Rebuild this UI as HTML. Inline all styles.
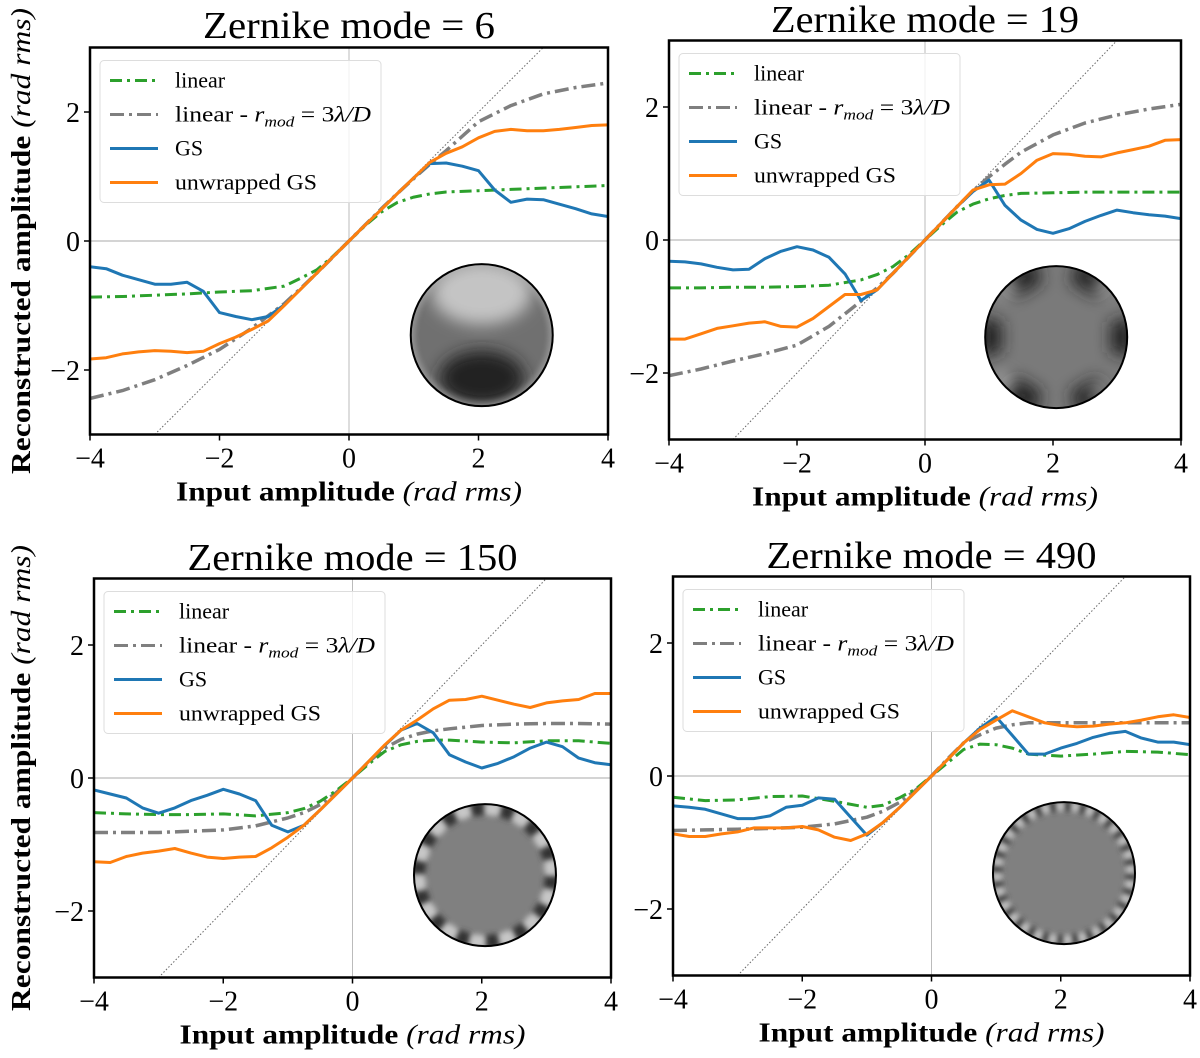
<!DOCTYPE html>
<html><head><meta charset="utf-8"><style>
html,body{margin:0;padding:0;background:#fff;}
svg{display:block;font-family:"Liberation Serif",serif;}
</style></head><body>
<svg id="fig" width="1200" height="1058" viewBox="0 0 1200 1058" xmlns="http://www.w3.org/2000/svg">
<defs>
<filter id="blur3" x="-20%" y="-20%" width="140%" height="140%"><feGaussianBlur stdDeviation="3"/></filter>
<filter id="blur6" x="-20%" y="-20%" width="140%" height="140%"><feGaussianBlur stdDeviation="8"/></filter>
</defs>
</svg>
<script>
// shared x grid
const xs = [-4,-3.75,-3.5,-3.25,-3,-2.75,-2.5,-2.25,-2,-1.75,-1.5,-1.25,-1,-0.75,-0.5,-0.25,0,0.25,0.5,0.75,1,1.25,1.5,1.75,2,2.25,2.5,2.75,3,3.25,3.5,3.75,4];
const xsLin = [-4,-3.5,-3,-2.5,-2,-1.5,-1,-0.75,-0.5,-0.25,0,0.25,0.5,0.75,1,1.25,1.5,2,2.5,3,3.5,4];
const modes = [6,19,150,490];
const xTicks = [-4,-2,0,2,4];
const yTicks = [-2,0,2];
const xTickLabels = ["\u22124","\u22122","0","2","4"];
const yTickLabels = ["\u22122","0","2"];

// mode 6
const gs6 = [-0.40,-0.43,-0.53,-0.60,-0.67,-0.67,-0.64,-0.78,-1.11,-1.17,-1.22,-1.17,-0.99,-0.75,-0.50,-0.25,0,0.25,0.49,0.74,0.98,1.20,1.21,1.16,1.09,0.79,0.60,0.65,0.64,0.57,0.50,0.42,0.38];
const ugs6 = [-1.83,-1.81,-1.75,-1.72,-1.70,-1.71,-1.73,-1.71,-1.59,-1.49,-1.37,-1.24,-1.00,-0.75,-0.50,-0.25,0,0.25,0.49,0.74,0.98,1.22,1.36,1.46,1.60,1.70,1.73,1.71,1.71,1.73,1.76,1.79,1.80];
const lin6 = [-0.87,-0.86,-0.84,-0.82,-0.79,-0.77,-0.70,-0.58,-0.45,-0.24,0,0.24,0.45,0.60,0.68,0.73,0.76,0.78,0.80,0.82,0.84,0.86];
const linr6 = [-2.44,-2.32,-2.15,-1.93,-1.68,-1.35,-0.97,-0.74,-0.50,-0.25,0,0.25,0.50,0.74,0.97,1.19,1.40,1.85,2.10,2.28,2.38,2.45];
// mode 19
const gs19 = [-0.32,-0.33,-0.36,-0.41,-0.45,-0.44,-0.28,-0.17,-0.10,-0.15,-0.26,-0.51,-0.91,-0.75,-0.50,-0.25,0,0.25,0.50,0.73,0.90,0.52,0.30,0.16,0.10,0.17,0.28,0.37,0.45,0.41,0.38,0.36,0.32];
const ugs19 = [-1.49,-1.49,-1.41,-1.33,-1.29,-1.25,-1.23,-1.30,-1.31,-1.18,-1.00,-0.82,-0.82,-0.75,-0.50,-0.25,0,0.25,0.50,0.75,0.83,0.84,1.00,1.20,1.30,1.29,1.26,1.25,1.31,1.36,1.41,1.50,1.51];
const lin19 = [-0.72,-0.72,-0.71,-0.71,-0.70,-0.68,-0.60,-0.52,-0.40,-0.22,0,0.22,0.42,0.54,0.62,0.67,0.70,0.71,0.72,0.72,0.72,0.72];
const linr19 = [-2.04,-1.94,-1.82,-1.71,-1.58,-1.30,-0.92,-0.72,-0.50,-0.25,0,0.25,0.50,0.74,0.95,1.14,1.32,1.58,1.76,1.88,1.97,2.04];
// mode 150
const gs150 = [-0.18,-0.24,-0.30,-0.45,-0.53,-0.45,-0.34,-0.26,-0.17,-0.24,-0.34,-0.71,-0.81,-0.71,-0.48,-0.24,0,0.25,0.49,0.72,0.82,0.68,0.35,0.24,0.15,0.22,0.32,0.45,0.54,0.47,0.30,0.23,0.20];
const ugs150 = [-1.26,-1.27,-1.18,-1.13,-1.10,-1.06,-1.13,-1.19,-1.21,-1.19,-1.18,-1.05,-0.89,-0.71,-0.48,-0.24,0,0.25,0.50,0.72,0.87,1.04,1.17,1.18,1.23,1.17,1.11,1.06,1.13,1.16,1.18,1.27,1.27];
const lin150 = [-0.52,-0.54,-0.55,-0.55,-0.54,-0.57,-0.52,-0.46,-0.35,-0.19,0,0.21,0.40,0.50,0.55,0.57,0.57,0.54,0.53,0.56,0.56,0.52];
const linr150 = [-0.82,-0.82,-0.82,-0.80,-0.78,-0.72,-0.60,-0.52,-0.40,-0.22,0,0.24,0.45,0.58,0.66,0.71,0.74,0.79,0.81,0.82,0.82,0.81];
// mode 490
const gs490 = [-0.45,-0.47,-0.50,-0.57,-0.64,-0.64,-0.60,-0.47,-0.44,-0.33,-0.35,-0.62,-0.89,-0.70,-0.48,-0.24,0,0.25,0.50,0.72,0.89,0.61,0.33,0.33,0.42,0.49,0.58,0.64,0.67,0.57,0.51,0.51,0.47];
const ugs490 = [-0.87,-0.91,-0.91,-0.87,-0.84,-0.78,-0.78,-0.78,-0.76,-0.81,-0.92,-0.97,-0.87,-0.70,-0.48,-0.24,0,0.25,0.50,0.70,0.84,0.98,0.89,0.80,0.76,0.74,0.75,0.78,0.80,0.84,0.89,0.92,0.88];
const lin490 = [-0.32,-0.37,-0.36,-0.31,-0.30,-0.38,-0.47,-0.44,-0.33,-0.20,0,0.20,0.40,0.48,0.47,0.42,0.33,0.30,0.33,0.37,0.36,0.32];
const linr490 = [-0.82,-0.81,-0.80,-0.79,-0.77,-0.72,-0.62,-0.53,-0.40,-0.22,0,0.26,0.50,0.62,0.72,0.77,0.80,0.80,0.80,0.80,0.80,0.80];

const gsSeries = [gs6,gs19,gs150,gs490];
const ugsSeries = [ugs6,ugs19,ugs150,ugs490];
const linSeries = [lin6,lin19,lin150,lin490];
const linrSeries = [linr6,linr19,linr150,linr490];

const NS = "http://www.w3.org/2000/svg";
const svg = document.getElementById('fig');
function mk(tag, attrs, parent){ const e=document.createElementNS(NS,tag); for(const k in attrs) e.setAttribute(k,attrs[k]); (parent||svg).appendChild(e); return e; }

const panels = [
 {l:90,r:608,t:47.5,b:434.5, title:"Zernike mode = 6", tw:292, ty:38, ylab:true},
 {l:669,r:1181,t:40.5,b:439.5, title:"Zernike mode = 19", tw:308, ty:32, ylab:false},
 {l:94,r:611,t:578.5,b:977.5, title:"Zernike mode = 150", tw:330, ty:570, ylab:true},
 {l:673,r:1190,t:576.5,b:975.5, title:"Zernike mode = 490", tw:330, ty:568, ylab:false}
];

panels.forEach((p,i)=>{
  const g = mk('g',{});
  
  
  const X = v => p.l + (v+4)/8*(p.r-p.l);
  const Y = v => p.b - (v+3)/6*(p.b-p.t);
  const cid = 'clip'+i;
  const cp = mk('clipPath',{id:cid},g); mk('rect',{x:p.l,y:p.t,width:p.r-p.l,height:p.b-p.t},cp);
  const plot = mk('g',{'clip-path':'url(#'+cid+')'},g);
  const zx = mk('line',{x1:X(0),x2:X(0),y1:p.t,y2:p.b,stroke:'#bbb','stroke-width':1},plot);
   
  const zy = mk('line',{x1:p.l,x2:p.r,y1:Y(0),y2:Y(0),stroke:'#bbb','stroke-width':1.2},plot);
   
  const id = mk('line',{x1:X(-3),y1:Y(-3),x2:X(3),y2:Y(3),stroke:'#666','stroke-width':1,'stroke-dasharray':'1.5 2'},plot);
   
  // inset pupil
  const cx = X(2.05), cy = Y(-1.46), r = 71;
  const ig = mk('g',{},plot);
   
  const icp = mk('clipPath',{id:'ic'+i},g); mk('circle',{cx:cx,cy:cy,r:r},icp);
  const ing = mk('g',{'clip-path':'url(#ic'+i+')'},ig);
  if(i===0){
    mk('circle',{cx:cx,cy:cy,r:r,fill:'#707070'},ing);
    mk('ellipse',{cx:cx,cy:cy-r*0.6,rx:r*0.7,ry:r*0.45,fill:'#c4c4c4',filter:'url(#blur6)'},ing);
    mk('ellipse',{cx:cx,cy:cy+r*0.6,rx:r*0.6,ry:r*0.38,fill:'#222',filter:'url(#blur6)'},ing);
    mk('circle',{cx:cx,cy:cy,r:r,fill:'none',stroke:'#bbb','stroke-width':8,filter:'url(#blur3)',opacity:0.5},ing);
  } else if(i===1){
    mk('circle',{cx:cx,cy:cy,r:r,fill:'#7a7a7a'},ing);
    const C = 2*Math.PI*(r-4);
    mk('circle',{cx:cx,cy:cy,r:r-4,fill:'none',stroke:'#222','stroke-width':24,'stroke-dasharray':(C/12)+' '+(C/12),'stroke-dashoffset':C/24,filter:'url(#blur6)'},ing);
    mk('circle',{cx:cx,cy:cy,r:r-2,fill:'none',stroke:'#ccc','stroke-width':10,'stroke-dasharray':(C/24)+' '+(C*5/24),'stroke-dashoffset':C/8,filter:'url(#blur6)'},ing);
  } else {
    const n = i===2 ? 14 : 28;
    const rr = r-4;
    const C = 2*Math.PI*rr;
    mk('circle',{cx:cx,cy:cy,r:r,fill:'#808080'},ing);
    mk('circle',{cx:cx,cy:cy,r:rr,fill:'none',stroke:'#333','stroke-width':i===2?14:10,'stroke-dasharray':(C/n/2)+' '+(C/n/2),filter:'url(#blur3)'},ing);
    mk('circle',{cx:cx,cy:cy,r:rr,fill:'none',stroke:'#c8c8c8','stroke-width':i===2?14:10,'stroke-dasharray':(C/n/2)+' '+(C/n/2),'stroke-dashoffset':C/n/2,filter:'url(#blur3)'},ing);
  }
  mk('circle',{cx:cx,cy:cy,r:r,fill:'none',stroke:'#000','stroke-width':2},ig);

  function line(xv,yv,color,dash,name,w){
    const d = xv.map((x,k)=>(k?'L':'M')+X(x).toFixed(1)+','+Y(yv[k]).toFixed(1)).join('');
    const e = mk('path',{d:d,fill:'none',stroke:color,'stroke-width':w,'stroke-linejoin':'round'},plot);
    if(dash) e.setAttribute('stroke-dasharray',dash);
     
  }
  line(xsLin,linrSeries[i],'#7f7f7f','14 5 3 5','series-linear-rmod',3.5);
  line(xsLin,linSeries[i],'#2ca02c','12 5 3 5','series-linear',3);
  line(xs,gsSeries[i],'#1f77b4',null,'series-gs',3);
  line(xs,ugsSeries[i],'#ff7f0e',null,'series-unwrapped-gs',3);

  const fr = mk('rect',{x:p.l,y:p.t,width:p.r-p.l,height:p.b-p.t,fill:'none',stroke:'#000','stroke-width':2.5},g);
   
  xTicks.forEach((v,k)=>{
    mk('line',{x1:X(v),x2:X(v),y1:p.b,y2:p.b+6,stroke:'#000','stroke-width':1.5},g);
    const t = mk('text',{x:X(v),y:p.b+33,'font-size':28,'text-anchor':'middle'},g);
    t.textContent = xTickLabels[k];
     
  });
  yTicks.forEach((v,k)=>{
    mk('line',{x1:p.l-6,x2:p.l,y1:Y(v),y2:Y(v),stroke:'#000','stroke-width':1.5},g);
    const t = mk('text',{x:p.l-10,y:Y(v)+10,'font-size':28,'text-anchor':'end'},g);
    t.textContent = yTickLabels[k];
     
  });
  const tt = mk('text',{x:(p.l+p.r)/2,y:p.ty,'font-size':38,'text-anchor':'middle',textLength:p.tw,lengthAdjust:'spacingAndGlyphs'},g);
  tt.textContent = p.title;
   
  const xl = mk('text',{x:(p.l+p.r)/2,y:p.b+66,'font-size':27,'text-anchor':'middle',textLength:346,lengthAdjust:'spacingAndGlyphs'},g);
  xl.innerHTML = '<tspan font-weight="bold">Input amplitude</tspan> <tspan font-style="italic">(rad rms)</tspan>';
   
  if(p.ylab){
    const yc = (p.t+p.b)/2;
    const yl = mk('text',{x:0,y:0,'font-size':27,'text-anchor':'middle',textLength:466,lengthAdjust:'spacingAndGlyphs',transform:'translate(30,'+yc+') rotate(-90)'},g);
    yl.innerHTML = '<tspan font-weight="bold">Reconstructed amplitude</tspan> <tspan font-style="italic">(rad rms)</tspan>';
     
  }
  const lg = mk('g',{},g);
   
  const lx = p.l+10, ly = p.t+13;
  mk('rect',{x:lx,y:ly,width:281,height:142,rx:4,fill:'#fff','fill-opacity':0.8,stroke:'#ddd','stroke-width':1},lg);
  const entries = [
    ['linear','#2ca02c','12 5 3 5','legend-linear',null],
    ['rmod','#7f7f7f','14 5 3 5','legend-linear-rmod',196],
    ['GS','#1f77b4',null,'legend-gs',null],
    ['unwrapped GS','#ff7f0e',null,'legend-unwrapped-gs',142]];
  entries.forEach((en,k)=>{
    const ey = ly+20+k*34;
    const eg = mk('g',{},lg);
     
    const ln = mk('line',{x1:lx+10,x2:lx+58,y1:ey,y2:ey,stroke:en[1],'stroke-width':3},eg);
    if(en[2]) ln.setAttribute('stroke-dasharray',en[2]);
    const t = mk('text',{x:lx+75,y:ey+7,'font-size':22},eg);
    if(en[4]){ t.setAttribute('textLength',en[4]); t.setAttribute('lengthAdjust','spacingAndGlyphs'); }
    if(en[0]==='rmod'){
      t.innerHTML = 'linear - <tspan font-style="italic">r</tspan><tspan font-style="italic" font-size="15" dy="5">mod</tspan><tspan dy="-5"> = 3</tspan><tspan font-style="italic">\u03bb/D</tspan>';
    } else t.textContent = en[0];
  });
});
</script>
</body></html>
